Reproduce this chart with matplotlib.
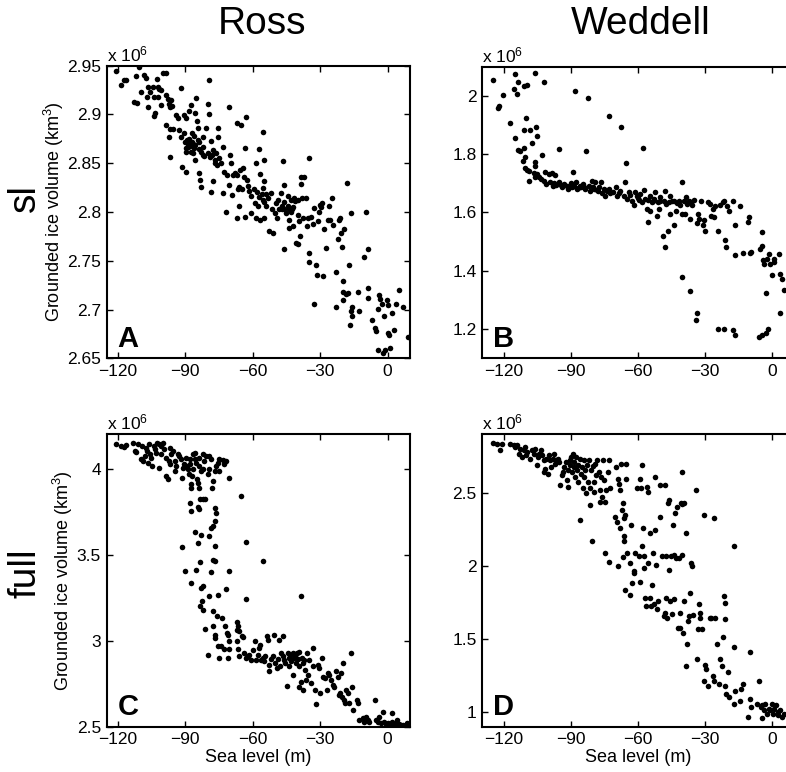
import matplotlib
matplotlib.use('Agg')
import matplotlib.pyplot as plt
import numpy as np

plt.rcParams['font.family'] = ['Liberation Sans', 'DejaVu Sans']
plt.rcParams['mathtext.fontset'] = 'custom'
plt.rcParams['mathtext.rm'] = 'Liberation Sans'
plt.rcParams['mathtext.it'] = 'Liberation Sans:italic'

# sea level (m), grounded ice volume (x 10^6 km^3)
ross_sl = [
    (-120.7, 2.945), (-118.5, 2.930), (-117.5, 2.935), (-116.6, 2.935), (-112.9, 2.913), (-111.4, 2.912),
    (-111.9, 2.939), (-110.4, 2.949), (-109.6, 2.923), (-108.4, 2.940), (-107.4, 2.937), (-106.7, 2.928),
    (-107.0, 2.918), (-106.7, 2.908), (-105.6, 2.923), (-104.4, 2.928), (-104.1, 2.918), (-103.7, 2.901),
    (-104.0, 2.898), (-102.7, 2.936), (-102.0, 2.928), (-101.5, 2.926), (-101.0, 2.925), (-102.2, 2.918),
    (-100.7, 2.910), (-98.8, 2.942), (-100.0, 2.942), (-98.5, 2.920), (-97.8, 2.916), (-97.3, 2.911),
    (-96.7, 2.908), (-95.9, 2.909), (-96.3, 2.915), (-98.5, 2.889), (-97.0, 2.885), (-97.3, 2.877),
    (-97.0, 2.856), (-95.6, 2.885), (-94.1, 2.899), (-93.3, 2.896), (-91.9, 2.927), (-92.6, 2.884),
    (-91.9, 2.877), (-91.4, 2.846), (-90.4, 2.899), (-89.6, 2.896), (-90.8, 2.881), (-89.3, 2.874),
    (-88.9, 2.867), (-89.6, 2.862), (-89.9, 2.841), (-88.4, 2.904), (-87.4, 2.910), (-86.9, 2.881),
    (-86.7, 2.870), (-86.4, 2.860), (-85.9, 2.853), (-85.2, 2.917), (-85.5, 2.901), (-84.9, 2.893),
    (-84.4, 2.886), (-84.0, 2.872), (-83.7, 2.865), (-83.7, 2.840), (-83.4, 2.833), (-82.9, 2.826),
    (-82.2, 2.877), (-81.9, 2.867), (-81.5, 2.857), (-80.7, 2.886), (-80.0, 2.911), (-79.3, 2.935),
    (-79.6, 2.900), (-78.5, 2.873), (-77.8, 2.864), (-78.5, 2.820), (-77.8, 2.832), (-77.0, 2.850),
    (-76.3, 2.860), (-75.6, 2.886), (-75.6, 2.877), (-74.8, 2.855), (-74.1, 2.850), (-73.0, 2.867),
    (-72.6, 2.841), (-73.3, 2.819), (-71.9, 2.800), (-71.4, 2.838), (-70.7, 2.828), (-70.4, 2.908),
    (-70.1, 2.858), (-69.6, 2.850), (-69.3, 2.817), (-68.9, 2.838), (-67.1, 2.891), (-66.7, 2.824),
    (-67.1, 2.794), (-66.2, 2.806), (-65.6, 2.843), (-65.2, 2.889), (-64.7, 2.824), (-64.4, 2.845),
    (-63.7, 2.836), (-63.3, 2.866), (-63.3, 2.795), (-63.0, 2.897), (-62.7, 2.833), (-62.2, 2.827),
    (-61.8, 2.822), (-60.7, 2.816), (-60.7, 2.799), (-59.3, 2.824), (-58.8, 2.809), (-58.5, 2.794),
    (-57.8, 2.806), (-58.5, 2.850), (-57.0, 2.865), (-56.7, 2.839), (-56.7, 2.792), (-55.6, 2.882),
    (-55.6, 2.825), (-54.8, 2.853), (-54.8, 2.832), (-55.2, 2.812), (-54.8, 2.794), (-54.1, 2.818),
    (-54.1, 2.806), (-53.3, 2.814), (-52.6, 2.781), (-51.9, 2.819), (-51.5, 2.803), (-50.9, 2.778),
    (-50.0, 2.799), (-49.7, 2.809), (-49.4, 2.794), (-48.6, 2.812), (-48.3, 2.803), (-47.5, 2.819),
    (-46.8, 2.806), (-46.4, 2.852), (-46.0, 2.828), (-46.0, 2.803), (-46.0, 2.762), (-45.2, 2.799),
    (-44.4, 2.816), (-44.3, 2.806), (-44.0, 2.784), (-43.7, 2.792), (-43.0, 2.812), (-42.5, 2.803),
    (-42.2, 2.786), (-41.5, 2.814), (-41.0, 2.811), (-40.7, 2.768), (-40.0, 2.797), (-40.0, 2.812),
    (-39.7, 2.767), (-39.3, 2.791), (-39.0, 2.775), (-38.5, 2.836), (-38.5, 2.829), (-38.1, 2.814),
    (-37.8, 2.794), (-37.0, 2.836), (-36.3, 2.814), (-36.0, 2.786), (-35.6, 2.794), (-35.1, 2.758),
    (-34.8, 2.855), (-34.8, 2.749), (-34.1, 2.795), (-33.3, 2.788), (-32.6, 2.804), (-32.6, 2.706),
    (-31.9, 2.746), (-31.6, 2.735), (-31.1, 2.791), (-30.4, 2.800), (-30.1, 2.807), (-29.6, 2.805),
    (-29.2, 2.809), (-28.6, 2.734), (-28.1, 2.783), (-27.4, 2.763), (-26.7, 2.792), (-26.0, 2.806),
    (-25.5, 2.792), (-24.7, 2.814), (-24.4, 2.787), (-23.0, 2.738), (-23.0, 2.703), (-22.2, 2.772),
    (-21.8, 2.792), (-21.2, 2.794), (-20.7, 2.778), (-20.3, 2.764), (-20.0, 2.729), (-20.0, 2.718),
    (-19.7, 2.710), (-19.3, 2.783), (-18.5, 2.716), (-18.1, 2.830), (-17.8, 2.717), (-17.0, 2.746),
    (-16.7, 2.684), (-16.3, 2.698), (-16.3, 2.799), (-15.9, 2.703), (-15.6, 2.693), (-13.3, 2.718),
    (-12.6, 2.698), (-10.4, 2.754), (-9.6, 2.800), (-8.9, 2.762), (-8.9, 2.722), (-8.9, 2.712),
    (-6.7, 2.689), (-5.6, 2.681), (-5.0, 2.678), (-4.4, 2.701), (-4.4, 2.658), (-3.7, 2.715),
    (-3.4, 2.711), (-2.5, 2.706), (-2.2, 2.655), (-1.5, 2.693), (-1.0, 2.658), (-0.4, 2.710),
    (0.4, 2.705), (0.4, 2.676), (0.7, 2.674), (1.0, 2.661), (1.9, 2.696), (2.9, 2.679),
    (3.7, 2.706), (5.2, 2.720), (6.7, 2.703), (9.3, 2.672),
    (-89.0, 2.870), (-88.0, 2.868), (-87.0, 2.872), (-86.0, 2.866), (-88.5, 2.875), (-87.5, 2.862),
    (-85.5, 2.869), (-84.5, 2.874), (-86.0, 2.878), (-89.5, 2.866), (-90.0, 2.872), (-83.0, 2.861),
    (-82.0, 2.858), (-80.0, 2.860), (-79.0, 2.856), (-78.0, 2.858), (-77.0, 2.853), (-76.0, 2.848),
    (-68.0, 2.840), (-67.0, 2.838), (-66.0, 2.826), (-58.0, 2.820), (-57.0, 2.815), (-56.0, 2.818),
    (-55.0, 2.810), (-44.0, 2.803), (-43.0, 2.800), (-42.0, 2.805), (-46.0, 2.810), (-47.0, 2.803),
]

weddell_sl = [
    (-124.8, 2.055), (-122.5, 1.960), (-121.9, 1.966), (-120.4, 2.002), (-117.0, 1.907), (-115.5, 2.023),
    (-114.8, 2.076), (-114.0, 2.006), (-113.6, 2.046), (-114.8, 1.855), (-113.6, 1.815), (-112.5, 1.810),
    (-110.8, 2.034), (-109.3, 2.036), (-110.0, 1.924), (-110.8, 1.883), (-108.1, 1.884), (-105.7, 1.894),
    (-105.1, 1.863), (-107.2, 1.840), (-111.4, 1.778), (-110.2, 1.789), (-110.8, 1.821), (-105.8, 1.772),
    (-105.8, 1.761), (-105.8, 2.077), (-102.1, 2.049), (-102.8, 1.797), (-110.6, 1.752), (-109.6, 1.747),
    (-108.4, 1.744), (-108.7, 1.707), (-106.6, 1.735), (-105.1, 1.732), (-105.8, 1.721), (-104.3, 1.723),
    (-103.3, 1.715), (-102.1, 1.709), (-100.9, 1.698), (-101.3, 1.738), (-99.9, 1.732), (-98.4, 1.736),
    (-96.9, 1.730), (-99.2, 1.704), (-97.6, 1.700), (-96.4, 1.695), (-95.4, 1.818), (-95.0, 1.704),
    (-93.9, 1.687), (-92.9, 1.698), (-91.7, 1.690), (-91.0, 1.681), (-89.9, 1.700), (-89.1, 1.738),
    (-89.4, 1.687), (-88.4, 1.692), (-87.9, 2.017), (-87.5, 1.704), (-87.2, 1.681), (-86.0, 1.692),
    (-85.4, 1.687), (-84.5, 1.698), (-83.5, 1.681), (-83.0, 1.810), (-82.3, 1.991), (-82.0, 1.692),
    (-81.2, 1.675), (-80.5, 1.709), (-80.0, 1.687), (-79.0, 1.704), (-78.3, 1.678), (-77.2, 1.687),
    (-76.3, 1.704), (-76.0, 1.666), (-75.3, 1.681), (-74.5, 1.658), (-73.8, 1.673), (-73.0, 1.932),
    (-73.0, 1.681), (-72.3, 1.666), (-69.6, 1.687), (-69.3, 1.655), (-68.6, 1.666), (-67.8, 1.675),
    (-67.5, 1.894), (-66.3, 1.658), (-65.6, 1.704), (-65.3, 1.769), (-64.8, 1.647), (-64.1, 1.670),
    (-62.6, 1.641), (-61.9, 1.624), (-61.1, 1.670), (-60.4, 1.655), (-59.6, 1.644), (-58.9, 1.664),
    (-58.1, 1.635), (-57.7, 1.820), (-57.4, 1.678), (-56.7, 1.647), (-55.9, 1.612), (-55.6, 1.569),
    (-55.2, 1.644), (-54.7, 1.606), (-54.4, 1.658), (-53.7, 1.635), (-52.9, 1.647), (-52.2, 1.670),
    (-51.4, 1.589), (-51.1, 1.635), (-50.7, 1.612), (-49.9, 1.652), (-48.7, 1.521), (-48.1, 1.641),
    (-47.7, 1.481), (-47.7, 1.672), (-47.2, 1.630), (-46.7, 1.538), (-46.2, 1.635), (-45.8, 1.658),
    (-45.5, 1.595), (-44.7, 1.638), (-44.0, 1.556), (-43.7, 1.641), (-42.8, 1.606), (-42.5, 1.632),
    (-41.7, 1.641), (-41.0, 1.627), (-40.2, 1.706), (-40.2, 1.595), (-39.5, 1.641), (-38.8, 1.595),
    (-38.5, 1.652), (-38.0, 1.630), (-37.3, 1.641), (-36.8, 1.578), (-36.2, 1.635), (-35.8, 1.624),
    (-34.7, 1.644), (-33.5, 1.564), (-33.2, 1.595), (-32.8, 1.578), (-31.7, 1.641), (-30.9, 1.556),
    (-30.3, 1.575), (-29.8, 1.538), (-28.8, 1.635), (-27.9, 1.630), (-27.3, 1.589), (-26.4, 1.612),
    (-25.8, 1.586), (-25.3, 1.622), (-24.3, 1.538), (-23.1, 1.627), (-22.1, 1.635), (-21.3, 1.641),
    (-20.9, 1.504), (-20.4, 1.481), (-20.2, 1.622), (-19.4, 1.604), (-17.2, 1.641), (-16.4, 1.556),
    (-16.4, 1.453), (-14.5, 1.622), (-13.0, 1.462), (-10.7, 1.567), (-10.4, 1.584), (-9.9, 1.462),
    (-9.2, 1.464), (-5.2, 1.476), (-4.5, 1.533), (-4.5, 1.486), (-4.0, 1.436), (-3.7, 1.425),
    (-2.2, 1.442), (-1.5, 1.459), (-0.7, 1.425), (0.0, 1.385), (0.7, 1.430), (1.0, 1.442),
    (3.0, 1.459), (3.4, 1.388), (4.5, 1.373), (5.2, 1.333), (3.7, 1.254), (-2.5, 1.324),
    (-1.7, 1.202), (-2.5, 1.187), (-4.5, 1.179), (-6.0, 1.174), (-16.4, 1.179), (-17.2, 1.196),
    (-21.6, 1.202), (-24.2, 1.200), (-33.5, 1.256), (-33.8, 1.233), (-36.8, 1.331), (-40.2, 1.379),
    (-98.0, 1.692), (-94.5, 1.694), (-90.5, 1.688), (-86.5, 1.684), (-84.0, 1.689), (-79.5, 1.680),
    (-77.8, 1.674), (-71.0, 1.670), (-63.5, 1.660), (-60.0, 1.648), (-53.0, 1.640), (-50.0, 1.638),
]

ross_full = [
    (-121.0, 4.146), (-118.5, 4.132), (-117.5, 4.126), (-116.6, 4.138), (-113.3, 4.152), (-112.6, 4.103),
    (-111.9, 4.099), (-111.1, 4.146), (-109.6, 4.054), (-109.2, 4.132), (-108.9, 4.045), (-108.1, 4.074),
    (-107.4, 4.122), (-107.1, 4.103), (-106.7, 4.035), (-106.2, 4.142), (-105.6, 4.086), (-105.2, 4.064),
    (-104.7, 4.016), (-104.1, 4.132), (-103.7, 4.113), (-103.0, 4.093), (-102.7, 4.152), (-101.8, 4.142),
    (-101.5, 4.006), (-101.0, 4.084), (-100.7, 4.132), (-100.0, 4.152), (-99.3, 4.113), (-98.8, 4.064),
    (-98.5, 3.957), (-97.8, 3.938), (-97.3, 4.045), (-97.0, 4.025), (-96.6, 4.122), (-96.3, 4.084),
    (-95.6, 4.103), (-94.8, 3.986), (-94.5, 4.045), (-94.1, 4.016), (-93.3, 4.084), (-92.6, 4.074),
    (-91.9, 4.054), (-91.4, 3.944), (-91.1, 4.006), (-90.4, 4.025), (-89.9, 4.064), (-89.3, 4.016),
    (-88.9, 3.996), (-88.4, 3.967), (-88.1, 4.054), (-87.8, 4.025), (-87.4, 3.909), (-87.4, 3.889),
    (-86.9, 3.957), (-86.7, 4.084), (-86.4, 3.996), (-85.9, 4.058), (-85.5, 4.093), (-85.2, 4.035),
    (-84.9, 3.938), (-84.4, 3.918), (-84.0, 4.016), (-83.7, 4.064), (-83.7, 3.889), (-83.3, 3.821),
    (-83.0, 3.986), (-82.2, 4.084), (-81.9, 3.996), (-81.5, 4.045), (-81.1, 3.821), (-80.7, 4.074),
    (-80.0, 3.967), (-79.6, 3.996), (-79.3, 4.074), (-78.5, 4.058), (-78.1, 3.889), (-77.8, 3.928),
    (-77.0, 3.986), (-76.3, 4.016), (-75.6, 4.035), (-75.1, 4.058), (-74.8, 3.986), (-73.0, 4.050),
    (-72.6, 4.025), (-71.9, 4.045), (-70.4, 3.944), (-87.9, 3.802), (-87.4, 3.753), (-84.4, 3.779),
    (-83.7, 3.763), (-82.2, 3.821), (-76.3, 3.740), (-77.0, 3.695), (-77.8, 3.666), (-76.6, 3.773),
    (-85.5, 3.631), (-83.0, 3.617), (-84.2, 3.569), (-79.6, 3.608), (-78.5, 3.656), (-77.0, 3.549),
    (-91.4, 3.543), (-90.1, 3.404), (-85.2, 3.413), (-83.5, 3.458), (-77.5, 3.468), (-77.0, 3.462),
    (-78.5, 3.398), (-70.4, 3.404), (-87.4, 3.336), (-83.0, 3.306), (-81.9, 3.316), (-82.7, 3.229),
    (-79.6, 3.258), (-75.6, 3.267), (-71.9, 3.301), (-83.3, 3.200), (-82.2, 3.180), (-77.8, 3.170),
    (-76.0, 3.141), (-73.6, 3.132), (-81.1, 3.067), (-77.5, 3.083), (-77.0, 3.034), (-76.6, 3.015),
    (-75.6, 2.970), (-72.2, 3.083), (-71.6, 3.044), (-71.2, 3.034), (-70.7, 3.001), (-70.4, 2.951),
    (-72.6, 2.951), (-74.1, 2.970), (-80.0, 2.918), (-74.8, 2.898), (-71.1, 2.898), (-67.1, 3.106),
    (-66.7, 3.083), (-67.1, 3.064), (-66.2, 3.054), (-67.1, 2.996), (-66.7, 2.951), (-65.9, 2.908),
    (-64.7, 3.025), (-64.1, 3.021), (-63.7, 2.928), (-63.0, 2.898), (-62.2, 2.912), (-61.5, 2.918),
    (-60.7, 2.889), (-59.7, 2.947), (-58.8, 3.001), (-58.5, 2.889), (-57.8, 2.918), (-57.3, 2.957),
    (-56.7, 2.976), (-56.3, 2.889), (-55.6, 2.898), (-54.8, 2.879), (-54.4, 2.908), (-53.8, 3.025),
    (-53.3, 3.005), (-52.9, 2.821), (-52.6, 2.860), (-51.9, 2.893), (-51.1, 2.908), (-50.4, 3.034),
    (-50.0, 2.869), (-49.3, 2.840), (-48.9, 2.893), (-48.4, 3.005), (-47.9, 2.850), (-47.4, 2.928),
    (-46.7, 3.025), (-46.4, 2.908), (-46.0, 2.889), (-45.5, 2.869), (-44.9, 2.737), (-44.4, 2.928),
    (-44.0, 2.898), (-43.7, 2.850), (-43.4, 2.918), (-42.8, 2.879), (-42.2, 2.928), (-41.9, 2.801),
    (-41.5, 2.898), (-41.0, 2.908), (-40.7, 2.869), (-40.4, 2.928), (-40.0, 2.893), (-39.6, 2.937),
    (-39.6, 2.850), (-39.3, 2.733), (-38.5, 3.262), (-38.5, 2.762), (-38.1, 2.898), (-37.8, 2.869),
    (-37.5, 2.714), (-37.0, 2.889), (-36.6, 2.830), (-36.3, 2.772), (-36.0, 2.928), (-35.6, 2.801),
    (-34.8, 2.889), (-34.1, 2.753), (-33.3, 2.957), (-33.0, 2.850), (-32.1, 2.714), (-31.9, 2.632),
    (-31.1, 2.860), (-30.4, 2.840), (-30.1, 2.695), (-29.2, 2.902), (-28.6, 2.791), (-27.7, 2.782),
    (-27.1, 2.714), (-26.7, 2.811), (-25.9, 2.801), (-25.2, 2.772), (-24.4, 2.743), (-23.7, 2.733),
    (-23.0, 2.821), (-22.2, 2.791), (-21.5, 2.685), (-21.2, 2.695), (-20.7, 2.811), (-20.3, 2.675),
    (-19.7, 2.869), (-19.3, 2.655), (-18.8, 2.636), (-18.5, 2.714), (-17.8, 2.695), (-17.3, 2.636),
    (-16.3, 2.928), (-15.6, 2.733), (-15.3, 2.597), (-13.8, 2.655), (-13.3, 2.636), (-12.6, 2.539),
    (-11.1, 2.549), (-10.4, 2.530), (-9.6, 2.558), (-8.9, 2.539), (-8.1, 2.530), (-5.5, 2.655),
    (-5.2, 2.539), (-4.4, 2.530), (-3.7, 2.558), (-3.0, 2.520), (-2.2, 2.588), (-1.5, 2.530),
    (-0.7, 2.517), (0.0, 2.524), (0.7, 2.510), (1.9, 2.578), (2.2, 2.530), (2.9, 2.510),
    (3.7, 2.520), (4.4, 2.539), (5.2, 2.517), (5.9, 2.510), (6.7, 2.510), (8.5, 2.524),
    (9.3, 2.510), (-65.2, 3.841), (-63.0, 3.573), (-63.0, 3.242), (-55.6, 3.462),
]

weddell_full = [
    (-124.8, 2.840), (-123.0, 2.835), (-121.8, 2.790), (-120.7, 2.835), (-117.3, 2.835), (-115.5, 2.824),
    (-114.8, 2.813), (-114.0, 2.829), (-113.3, 2.767), (-112.5, 2.801), (-111.8, 2.744), (-110.9, 2.790),
    (-110.2, 2.813), (-109.9, 2.756), (-109.3, 2.779), (-108.1, 2.733), (-107.3, 2.790), (-106.6, 2.767),
    (-105.8, 2.801), (-105.1, 2.688), (-104.8, 2.744), (-104.3, 2.767), (-103.3, 2.790), (-102.8, 2.756),
    (-102.1, 2.643), (-101.8, 2.722), (-101.3, 2.665), (-100.9, 2.733), (-100.3, 2.631), (-99.9, 2.756),
    (-99.1, 2.722), (-98.7, 2.677), (-97.9, 2.733), (-97.3, 2.767), (-96.9, 2.699), (-96.4, 2.722),
    (-95.8, 2.733), (-95.4, 2.711), (-94.7, 2.552), (-93.9, 2.620), (-93.5, 2.643), (-92.9, 2.677),
    (-92.0, 2.711), (-91.7, 2.586), (-91.4, 2.654), (-91.0, 2.541), (-90.5, 2.722), (-90.2, 2.688),
    (-89.9, 2.744), (-89.4, 2.643), (-89.0, 2.767), (-88.7, 2.677), (-88.4, 2.711), (-87.9, 2.609),
    (-87.6, 2.744), (-87.2, 2.654), (-86.9, 2.688), (-86.5, 2.575), (-86.0, 2.733), (-85.7, 2.314),
    (-85.4, 2.631), (-85.0, 2.677), (-84.7, 2.529), (-84.2, 2.722), (-83.9, 2.609), (-83.5, 2.654),
    (-83.0, 2.495), (-82.7, 2.688), (-82.3, 2.575), (-82.0, 2.722), (-81.5, 2.416), (-81.2, 2.529),
    (-80.9, 2.654), (-80.5, 2.167), (-80.0, 2.680), (-79.7, 2.575), (-79.4, 2.507), (-79.0, 2.699),
    (-78.6, 2.620), (-78.0, 2.722), (-77.5, 2.643), (-77.1, 2.439), (-76.8, 2.518), (-76.5, 2.609),
    (-76.0, 2.473), (-75.6, 2.722), (-75.3, 2.586), (-74.8, 2.088), (-74.5, 2.439), (-74.1, 2.518),
    (-73.5, 2.643), (-73.0, 2.727), (-73.0, 2.024), (-72.3, 2.529), (-70.1, 2.337), (-69.6, 2.677),
    (-69.3, 2.303), (-68.9, 2.597), (-68.6, 2.563), (-68.1, 2.258), (-69.0, 1.997), (-67.8, 2.518),
    (-67.5, 2.699), (-67.1, 2.382), (-66.6, 2.427), (-66.3, 2.201), (-66.0, 2.326), (-65.6, 2.348),
    (-66.0, 2.167), (-65.3, 2.699), (-65.1, 2.597), (-64.8, 2.088), (-66.8, 2.060), (-65.6, 1.838),
    (-63.6, 2.020), (-63.4, 1.804), (-63.0, 2.280), (-62.6, 1.884), (-61.9, 1.952), (-61.6, 1.963),
    (-61.1, 2.088), (-60.4, 2.529), (-59.6, 2.065), (-59.2, 2.597), (-59.2, 1.888), (-58.6, 2.529),
    (-58.1, 2.688), (-58.1, 2.133), (-57.7, 2.258), (-57.4, 2.065), (-57.1, 1.986), (-56.7, 1.782),
    (-56.2, 1.725), (-55.9, 2.541), (-55.6, 2.507), (-55.2, 2.020), (-54.7, 1.782), (-54.4, 2.224),
    (-54.1, 1.725), (-53.7, 1.872), (-53.2, 2.088), (-52.9, 1.736), (-52.2, 2.609), (-52.2, 2.246),
    (-51.7, 2.008), (-51.4, 1.702), (-51.0, 1.759), (-50.2, 2.337), (-49.9, 2.552), (-49.2, 2.065),
    (-48.4, 1.657), (-47.7, 1.680), (-47.3, 1.782), (-47.7, 2.552), (-47.3, 2.065), (-47.0, 1.646),
    (-46.7, 2.427), (-46.2, 2.450), (-46.2, 1.974), (-45.8, 1.759), (-45.2, 2.065), (-44.7, 1.669),
    (-44.3, 2.280), (-44.0, 1.770), (-43.7, 2.076), (-43.2, 2.359), (-42.8, 2.054), (-42.5, 2.405),
    (-42.2, 1.578), (-41.7, 2.054), (-41.3, 1.578), (-41.0, 1.680), (-40.7, 2.427), (-40.2, 2.423),
    (-40.2, 2.643), (-40.2, 2.076), (-39.8, 1.544), (-39.5, 1.759), (-39.2, 2.427), (-38.3, 2.224),
    (-38.3, 1.317), (-38.0, 1.464), (-37.7, 1.623), (-37.3, 1.657), (-36.8, 1.811), (-36.2, 2.020),
    (-35.8, 1.997), (-35.3, 1.662), (-33.8, 2.518), (-33.5, 1.362), (-33.2, 1.566), (-32.8, 1.736),
    (-32.3, 1.680), (-32.0, 1.646), (-31.3, 1.566), (-30.6, 2.348), (-30.6, 1.215), (-29.8, 1.322),
    (-29.4, 1.294), (-28.8, 1.181), (-27.9, 1.646), (-27.3, 1.646), (-26.4, 1.249), (-26.1, 2.326),
    (-25.8, 1.215), (-25.3, 1.646), (-24.6, 1.464), (-23.8, 1.192), (-23.1, 1.362), (-22.4, 1.317),
    (-21.9, 1.510), (-21.3, 1.793), (-20.9, 1.748), (-20.9, 1.634), (-20.9, 1.181), (-20.4, 1.125),
    (-19.8, 1.272), (-19.4, 1.102), (-17.1, 1.442), (-17.1, 2.133), (-16.8, 1.057), (-16.4, 1.147),
    (-14.5, 1.079), (-13.8, 1.158), (-12.9, 1.192), (-10.7, 0.966), (-10.0, 1.408), (-9.7, 1.091),
    (-9.4, 1.034), (-6.7, 1.057), (-5.9, 1.215), (-4.8, 1.034), (-4.5, 1.050), (-4.5, 0.957),
    (-3.7, 1.011), (-3.0, 1.057), (-2.2, 0.989), (-1.5, 1.023), (-0.7, 1.011), (0.0, 1.057),
    (0.4, 0.989), (1.0, 1.023), (1.8, 1.045), (2.5, 0.977), (2.9, 1.000), (3.7, 1.011),
    (4.5, 0.966), (5.2, 0.989),
]

col_titles = ['Ross', 'Weddell']
row_titles = ['sl', 'full']
panel_letters = ['A', 'B', 'C', 'D']

ylims = [(2.65, 2.95), (1.1, 2.1), (2.5, 4.2), (0.9, 2.9)]
yticks = [[2.65, 2.7, 2.75, 2.8, 2.85, 2.9, 2.95], [1.2, 1.4, 1.6, 1.8, 2.0],
          [2.5, 3.0, 3.5, 4.0], [1.0, 1.5, 2.0, 2.5]]
ytick_labels = [['2.65', '2.7', '2.75', '2.8', '2.85', '2.9', '2.95'], ['1.2', '1.4', '1.6', '1.8', '2'],
                ['2.5', '3', '3.5', '4'], ['1', '1.5', '2', '2.5']]
xticks = [-120, -90, -60, -30, 0]

fig = plt.figure(figsize=(7.86, 7.72), dpi=100)

boxes = [[0.1357, 0.5359, 0.3859, 0.3790],
         [0.6136, 0.5359, 0.3970, 0.3777],
         [0.1357, 0.0587, 0.3859, 0.3788],
         [0.6136, 0.0587, 0.3970, 0.3788]]
xlims = [(-125, 10), (-129.5, 10), (-125, 10), (-129.5, 10)]
datas = [ross_sl, weddell_sl, ross_full, weddell_full]

for i in range(4):
    ax = fig.add_axes(boxes[i])
    pts = np.array(datas[i])
    ax.scatter(pts[:, 0], pts[:, 1], s=16, c='k', linewidths=0)
    ax.set_xlim(xlims[i])
    ax.set_ylim(ylims[i])
    ax.set_xticks(xticks)
    ax.set_yticks(yticks[i])
    ax.set_yticklabels(ytick_labels[i])
    ax.tick_params(direction='in', top=True, right=True, length=4, width=1, labelsize=12.5, pad=4)
    for sp in ax.spines.values():
        sp.set_linewidth(1.5)
    ax.text(0.0, 1.005, r'x 10$^6$', transform=ax.transAxes, fontsize=12.5, ha='left', va='bottom')
    ax.text(0.035, 0.04, panel_letters[i], transform=ax.transAxes, fontsize=21,
            fontweight='bold', ha='left', va='baseline')
    if i % 2 == 0:
        ax.set_ylabel('Grounded ice volume (km$^3$)', fontsize=13, labelpad=1)
    if i >= 2:
        ax.set_xlabel('Sea level (m)', fontsize=13, labelpad=1)

fig.text(262 / 786, 1 - 24 / 772, col_titles[0], fontsize=28, ha='center', va='center')
fig.text(641 / 786, 1 - 24 / 772, col_titles[1], fontsize=28, ha='center', va='center')
fig.text(25 / 786, 1 - 198 / 772, row_titles[0], fontsize=28, rotation=90, ha='center', va='center')
fig.text(25 / 786, 1 - 573 / 772, row_titles[1], fontsize=28, rotation=90, ha='center', va='center')

fig.savefig('out.png', dpi=100)
